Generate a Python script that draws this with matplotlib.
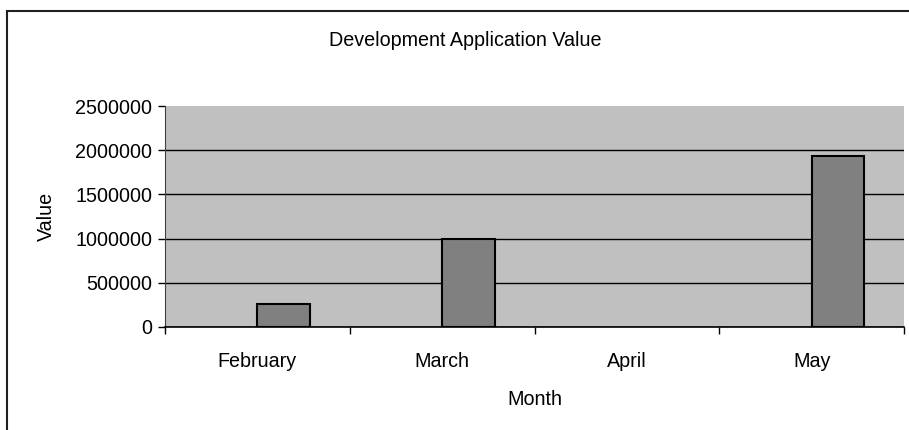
import matplotlib
matplotlib.use("Agg")
import matplotlib.pyplot as plt
from matplotlib.patches import Rectangle

# data
months = ["February", "March", "April", "May"]
values = [255000, 1000000, 0, 1930000]
yticks = [0, 500000, 1000000, 1500000, 2000000, 2500000]

plt.rcParams["font.family"] = ["Liberation Sans", "DejaVu Sans"]
fs = 14.2

W, H = 909, 430
fig = plt.figure(figsize=(W / 100, H / 100), dpi=100)

# plot area in pixels: x 165..904, y 106..327
ax = fig.add_axes([165 / W, (H - 327) / H, (904 - 165) / W, (327 - 106) / H])
ax.set_facecolor("#c0c0c0")

x = list(range(len(months)))
bw = 1 / 3.5
# a zero bar draws nothing in excel, so no outline for it
lw = [1.5 if v else 0 for v in values]
ax.bar(x, values, width=bw, align="edge", color="#808080",
       edgecolor="black", linewidth=lw, zorder=2)

ax.set_xlim(-0.5, len(months) - 0.5)
ax.set_ylim(0, 2500000)
ax.set_yticks(yticks)
ax.set_yticklabels([str(v) for v in yticks], fontsize=fs)
ax.yaxis.grid(True, color="black", linewidth=1)
ax.set_axisbelow(True)
# no line along the top of the plot area
ax.get_ygridlines()[-1].set_visible(False)

# category boundaries as ticks, labels in the middle
ax.set_xticks([i - 0.5 for i in range(len(months) + 1)])
ax.set_xticklabels([])
ax.set_xticks(x, minor=True)
ax.set_xticklabels(months, minor=True, fontsize=fs)
ax.tick_params(axis="x", which="minor", length=0, pad=18)
ax.tick_params(axis="x", which="major", length=5, width=1, direction="out")
ax.tick_params(axis="y", length=5, width=1, direction="out", pad=4)

for s in ["top", "right"]:
    ax.spines[s].set_visible(False)
ax.spines["left"].set_color("#404040")
ax.spines["bottom"].set_linewidth(1.2)

ax.set_xlabel("Month", fontsize=fs, labelpad=14)
ax.set_ylabel("Value", fontsize=fs, labelpad=14)

fig.text(465 / W, 1 - 40 / H, "Development Application Value",
         fontsize=fs, ha="center", va="center")

# outer chart border (cut off at right and bottom)
fig.patches.append(Rectangle((7 / W, -0.2), 2, 1 - 11 / H + 0.2,
                             transform=fig.transFigure, fill=False,
                             edgecolor="#202020", linewidth=1.5))

fig.savefig("out.png", dpi=100)
